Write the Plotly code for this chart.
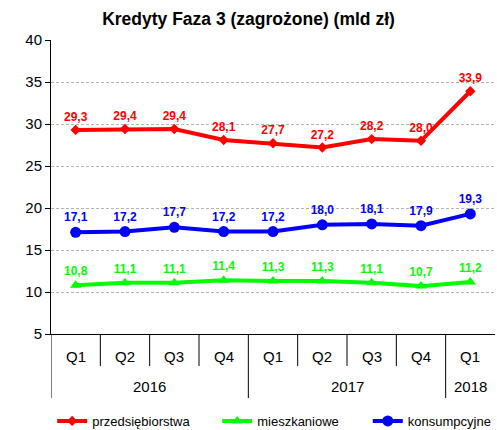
import plotly.graph_objects as go

quarters = ["Q1", "Q2", "Q3", "Q4", "Q1", "Q2", "Q3", "Q4", "Q1"]
years = ["2016", "2017", "2018"]
year_centers = [1.5, 5.5, 8.0]
year_bounds = [-0.5, 3.5, 7.5]

przedsiebiorstwa = [29.3, 29.4, 29.4, 28.1, 27.7, 27.2, 28.2, 28.0, 33.9]
mieszkaniowe = [10.8, 11.1, 11.1, 11.4, 11.3, 11.3, 11.1, 10.7, 11.2]
konsumpcyjne = [17.1, 17.2, 17.7, 17.2, 17.2, 18.0, 18.1, 17.9, 19.3]

series = [
    ("przedsiębiorstwa", przedsiebiorstwa, "#FF0000", "diamond", 8, "legend", 0.105),
    ("mieszkaniowe", mieszkaniowe, "#00FF00", "triangle-up", 10, "legend2", 0.437),
    ("konsumpcyjne", konsumpcyjne, "#0000FF", "circle", 11, "legend3", 0.740),
]

x_idx = list(range(len(quarters)))
font = "Liberation Sans, Arial, sans-serif"

fig = go.Figure()
legends = {}
for name, vals, color, symbol, size, leg, lx in series:
    fig.add_trace(go.Scatter(
        x=x_idx, y=vals, name=name, legend=leg,
        mode="lines+markers+text",
        line=dict(color=color, width=4),
        marker=dict(color=color, symbol=symbol, size=size),
        text=[f"{v:.1f}".replace(".", ",") for v in vals],
        textposition="top center",
        textfont=dict(color=color, size=12, family=font, weight="bold"),
        cliponaxis=False,
    ))
    legends[leg] = dict(orientation="h", xref="container", x=lx, xanchor="left",
                        yref="container", y=0.021, yanchor="middle",
                        itemwidth=30, bgcolor="rgba(0,0,0,0)",
                        font=dict(size=13, family=font, color="black"))

shapes = []
# category separators below the x axis
for i in range(len(quarters)):
    b = i - 0.5
    long = b in year_bounds
    shapes.append(dict(type="line", xref="x", yref="paper", x0=b, x1=b,
                       y0=0, y1=-0.218 if long else -0.109,
                       line=dict(color="black", width=1)))

annotations = []
for i, q in enumerate(quarters):
    annotations.append(dict(x=i, y=-0.075, xref="x", yref="paper", text=q,
                            showarrow=False, yanchor="middle",
                            font=dict(size=15, family=font, color="black")))
for yr, c in zip(years, year_centers):
    annotations.append(dict(x=c, y=-0.18, xref="x", yref="paper", text=yr,
                            showarrow=False, yanchor="middle",
                            font=dict(size=15, family=font, color="black")))

fig.update_layout(
    width=497, height=430,
    margin=dict(l=51, r=2, t=40, b=96),
    paper_bgcolor="white", plot_bgcolor="white",
    title=dict(text="<b>Kredyty Faza 3 (zagrożone) (mld zł)</b>",
               x=0.5, xanchor="center", y=0.955, yanchor="middle",
               font=dict(size=17.5, family=font, color="black")),
    xaxis=dict(range=[-0.5, 8.5], showticklabels=False, showgrid=False,
               zeroline=False, showline=True, linecolor="black", linewidth=1,
               ticks=""),
    yaxis=dict(range=[5, 40], tickvals=[5, 10, 15, 20, 25, 30, 35, 40],
               showgrid=True, gridcolor="#B4B4B4", griddash="3px,2px", gridwidth=1,
               zeroline=False, showline=True, linecolor="black", linewidth=1,
               ticks="outside", ticklen=5, tickcolor="black",
               tickfont=dict(size=15, family=font, color="black")),
    shapes=shapes,
    annotations=annotations,
    showlegend=True,
    **legends,
)

fig.write_html("out.html")
